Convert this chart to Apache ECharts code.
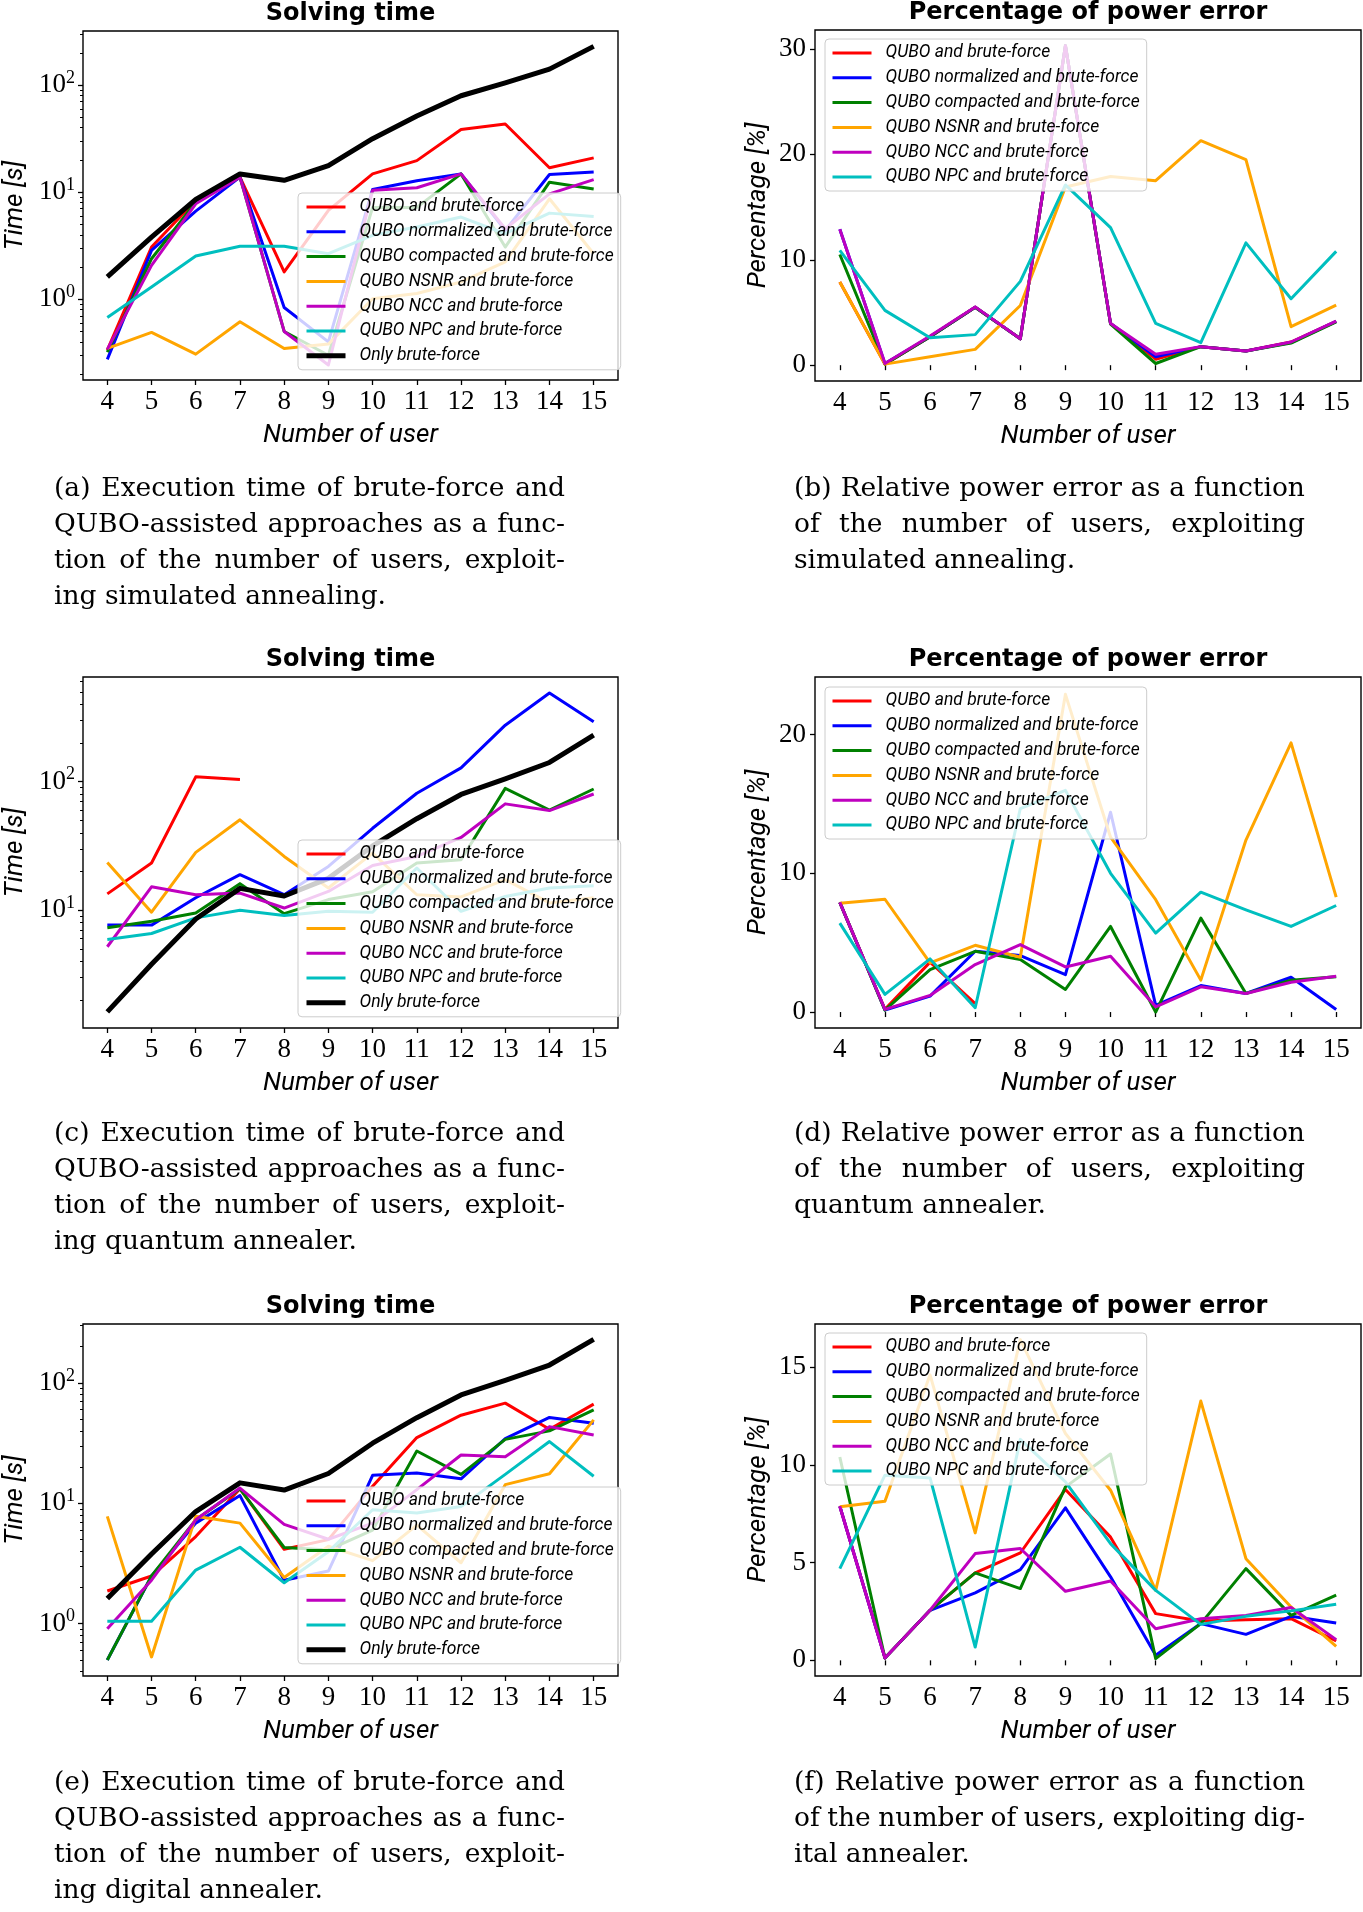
<!DOCTYPE html>
<html>
<head>
<meta charset="utf-8">
<script src="https://cdn.jsdelivr.net/npm/echarts@6/dist/echarts.min.js"></script>
<style>
html,body{margin:0;padding:0;background:#fff;}
#wrap{position:relative;width:1363px;height:1912px;overflow:hidden;}
#chart{position:absolute;left:0;top:0;width:1363px;height:1912px;}
.cap{position:absolute;width:511px;font-family:"DejaVu Serif",serif;font-size:26.5px;line-height:36px;color:#000;}
.cap div{white-space:nowrap;height:36px;}
.cap div.j{display:flex;justify-content:space-between;}
</style>
</head>
<body>
<div id="wrap">
<div id="chart"></div>
<div class="cap" style="left:54px;top:469px;">
<div class="j">(a) Execution time of brute-force and</div>
<div class="j">QUBO-assisted approaches as a func-</div>
<div class="j">tion of the number of users, exploit-</div>
<div>ing simulated annealing.</div>
</div>
<div class="cap" style="left:794px;top:469px;">
<div class="j">(b) Relative power error as a function</div>
<div class="j">of the number of users, exploiting</div>
<div>simulated annealing.</div>
</div>
<div class="cap" style="left:54px;top:1114px;">
<div class="j">(c) Execution time of brute-force and</div>
<div class="j">QUBO-assisted approaches as a func-</div>
<div class="j">tion of the number of users, exploit-</div>
<div>ing quantum annealer.</div>
</div>
<div class="cap" style="left:794px;top:1114px;">
<div class="j">(d) Relative power error as a function</div>
<div class="j">of the number of users, exploiting</div>
<div>quantum annealer.</div>
</div>
<div class="cap" style="left:54px;top:1763px;">
<div class="j">(e) Execution time of brute-force and</div>
<div class="j">QUBO-assisted approaches as a func-</div>
<div class="j">tion of the number of users, exploit-</div>
<div>ing digital annealer.</div>
</div>
<div class="cap" style="left:794px;top:1763px;">
<div class="j">(f) Relative power error as a function</div>
<div class="j">of the number of users, exploiting dig-</div>
<div>ital annealer.</div>
</div>
</div>
<script>
// justify caption lines: one span per word, spread across the line
document.querySelectorAll('.cap div.j').forEach(function (d) {
  const words = d.textContent.trim().split(/\s+/);
  d.textContent = '';
  words.forEach(function (w) { const s = document.createElement('span'); s.textContent = w; d.appendChild(s); });
});

// ---------------- DATA ----------------
const users = [4, 5, 6, 7, 8, 9, 10, 11, 12, 13, 14, 15];
const seriesNames = ['QUBO and brute-force', 'QUBO normalized and brute-force', 'QUBO compacted and brute-force',
  'QUBO NSNR and brute-force', 'QUBO NCC and brute-force', 'QUBO NPC and brute-force', 'Only brute-force'];

const bruteOnly = [1.62, 3.8, 8.55, 14.8, 12.9, 17.7, 31.6, 51.5, 79.5, 105, 141, 230];

// (a) solving time, simulated annealing [s]
const aQubo = [0.335, 3.07, 8.36, 13.8, 1.8, 6.75, 14.8, 19.7, 38.4, 43.3, 16.9, 20.9];
const aNorm = [0.274, 2.86, 6.65, 13.8, 0.836, 0.40, 10.6, 12.8, 14.8, 4.4, 14.6, 15.4];
const aComp = [0.32, 2.39, 8.07, 13.8, 0.50, 0.30, 7.2, 7.2, 14.8, 3.07, 12.4, 10.7];
const aNsnr = [0.347, 0.49, 0.307, 0.615, 0.347, 0.381, 1.01, 1.13, 1.45, 2.23, 8.67, 2.66];
const aNcc  = [0.34, 2.07, 7.79, 13.8, 0.50, 0.243, 10.4, 11.0, 14.8, 4.55, 9.65, 13.1];
const aNpc  = [0.675, 1.30, 2.53, 3.12, 3.12, 2.66, 3.95, 4.72, 5.85, 4.09, 6.37, 5.93];

// (b) power error, simulated annealing [%]
const bQubo = [7.9, 0.1, 2.7, 5.5, 2.5, 30.3, 3.96, 0.57, 1.76, 1.35, 2.2, 4.15];
const bNorm = [12.9, 0.15, 2.7, 5.5, 2.5, 30.3, 3.96, 0.8, 1.76, 1.35, 2.15, 4.15];
const bComp = [10.5, 0.1, 2.7, 5.5, 2.5, 30.3, 3.9, 0.16, 1.76, 1.35, 2.1, 4.1];
const bNsnr = [7.9, 0.1, 0.8, 1.5, 5.66, 16.9, 17.9, 17.5, 21.3, 19.5, 3.65, 5.7];
const bNcc  = [12.9, 0.16, 2.77, 5.53, 2.5, 30.3, 3.96, 1.04, 1.76, 1.35, 2.2, 4.18];
const bNpc  = [10.9, 5.2, 2.6, 2.9, 7.95, 17.1, 13.05, 3.96, 2.14, 11.6, 6.3, 10.8];

// (c) solving time, quantum annealer [s]
const cQubo = [13.4, 23.3, 109, 104, null, null, null, null, null, null, null, null];
const cNorm = [7.66, 7.66, 12.5, 18.9, 13.2, 21.9, 43.4, 81.3, 128, 275, 490, 292];
const cComp = [7.3, 8.2, 9.5, 16.1, 9.4, 12.1, 13.9, 23.3, 24.7, 88.7, 60.2, 87.7];
const cNsnr = [23.5, 9.65, 28.2, 50.5, 26.2, 14.9, 27.8, 13.2, 12.7, 17.3, 11.4, 12.5];
const cNcc  = [5.2, 15.2, 13.2, 13.6, 10.4, 14.0, 22.3, 26.2, 36.8, 67.2, 59.6, 80.2];
const cNpc  = [5.93, 6.59, 8.72, 10.0, 9.1, 9.8, 9.65, 21.3, 9.8, 12.8, 14.9, 15.5];

// (d) power error, quantum annealer [%]
const dQubo = [7.9, 0.19, 3.6, 0.6, null, null, null, null, null, null, null, null];
const dNorm = [7.9, 0.15, 1.15, 4.38, 4.07, 2.7, 14.4, 0.48, 1.91, 1.34, 2.51, 0.19];
const dComp = [7.9, 0.14, 3.06, 4.38, 3.78, 1.63, 6.17, 0.0, 6.77, 1.34, 2.3, 2.54];
const dNsnr = [7.85, 8.13, 3.54, 4.81, 3.95, 22.9, 12.6, 8.1, 2.3, 12.4, 19.4, 8.28];
const dNcc  = [7.9, 0.19, 1.2, 3.42, 4.86, 3.25, 4.02, 0.38, 1.82, 1.34, 2.15, 2.58];
const dNpc  = [6.41, 1.27, 3.83, 0.31, 14.67, 15.98, 10.0, 5.69, 8.64, 7.37, 6.17, 7.68];

// (e) solving time, digital annealer [s]
const eQubo = [1.87, 2.49, 5.3, 13.2, 4.15, 5.0, 13.9, 35.2, 54, 68, 41.3, 66.8];
const eNorm = [0.5, 2.49, 6.85, 11.6, 2.3, 2.74, 17.1, 17.9, 16.0, 34.5, 51.7, 46.3];
const eComp = [0.5, 2.5, 7.3, 13.2, 4.3, 4.1, 6.0, 27.2, 17.4, 34, 40, 59.8];
const eNsnr = [7.8, 0.53, 7.8, 6.85, 2.42, 4.4, 3.34, 6.6, 3.21, 14.3, 17.6, 49.4];
const eNcc  = [0.91, 2.3, 7.3, 13.4, 6.7, 5.03, 6.85, 13, 25.2, 24.4, 43.4, 37];
const eNpc  = [1.05, 1.05, 2.79, 4.32, 2.19, 3.97, 8.85, 8.3, 9.4, 17.4, 32.6, 16.8];

// (f) power error, digital annealer [%]
const fQubo = [7.88, 0.12, 2.56, 4.47, 5.49, 8.74, 6.3, 2.39, 2.01, 2.08, 2.13, 0.99];
const fNorm = [7.88, 0.12, 2.56, 3.45, 4.64, 7.8, 4.27, 0.26, 1.88, 1.33, 2.25, 1.91];
const fComp = [10.4, 0.12, 2.56, 4.47, 3.67, 8.87, 10.55, 0.09, 1.88, 4.69, 2.3, 3.33];
const fNsnr = [7.85, 8.14, 14.6, 6.52, 16.4, 11.6, 8.7, 3.58, 13.26, 5.2, 2.73, 0.72];
const fNcc  = [7.88, 0.12, 2.56, 5.46, 5.72, 3.53, 4.06, 1.62, 2.13, 2.3, 2.7, 1.06];
const fNpc  = [4.69, 9.47, 9.33, 0.68, 11.3, 9.13, 5.97, 3.58, 1.84, 2.25, 2.53, 2.87];

// tick values
const logMajorTicks = [1, 10, 100];
const logMinorA = [0.2, 0.3, 0.4, 0.5, 0.6, 0.7, 0.8, 0.9, 2, 3, 4, 5, 6, 7, 8, 9, 20, 30, 40, 50, 60, 70, 80, 90, 200, 300];
const logMinorC = [2, 3, 4, 5, 6, 7, 8, 9, 20, 30, 40, 50, 60, 70, 80, 90, 200, 300, 400, 500, 600];
const logMinorE = [0.4, 0.5, 0.6, 0.7, 0.8, 0.9, 2, 3, 4, 5, 6, 7, 8, 9, 20, 30, 40, 50, 60, 70, 80, 90, 200, 300];
const pctTicksB = [0, 10, 20, 30];
const pctTicksD = [0, 10, 20];
const pctTicksF = [0, 5, 10, 15];

// ---------------- CHART ----------------
const colors = ['#ff0000', '#0000ff', '#008000', '#ffa500', '#bf00bf', '#00bfbf', '#000000'];
const panels = [
  { grid: {left: 83, top: 31, width: 535, height: 349}, log: true, min: 0.176, max: 320, minor: logMinorA,
    title: 'Solving time', yName: 'Time [s]', data: [aQubo, aNorm, aComp, aNsnr, aNcc, aNpc, bruteOnly],
    legend: {left: 298, top: 193} },
  { grid: {left: 815, top: 30, width: 546, height: 351}, log: false, min: -1.5, max: 31.8, ticks: pctTicksB,
    title: 'Percentage of power error', yName: 'Percentage [%]', data: [bQubo, bNorm, bComp, bNsnr, bNcc, bNpc],
    legend: {left: 825, top: 39} },
  { grid: {left: 83, top: 677, width: 535, height: 351}, log: true, min: 1.213, max: 652, minor: logMinorC,
    title: 'Solving time', yName: 'Time [s]', data: [cQubo, cNorm, cComp, cNsnr, cNcc, cNpc, bruteOnly],
    legend: {left: 298, top: 840} },
  { grid: {left: 815, top: 677, width: 546, height: 351}, log: false, min: -1.15, max: 24.15, ticks: pctTicksD,
    title: 'Percentage of power error', yName: 'Percentage [%]', data: [dQubo, dNorm, dComp, dNsnr, dNcc, dNpc],
    legend: {left: 825, top: 687} },
  { grid: {left: 83, top: 1324, width: 535, height: 352}, log: true, min: 0.368, max: 309, minor: logMinorE,
    title: 'Solving time', yName: 'Time [s]', data: [eQubo, eNorm, eComp, eNsnr, eNcc, eNpc, bruteOnly],
    legend: {left: 298, top: 1487} },
  { grid: {left: 815, top: 1324, width: 546, height: 352}, log: false, min: -0.8, max: 17.2, ticks: pctTicksF,
    title: 'Percentage of power error', yName: 'Percentage [%]', data: [fQubo, fNorm, fComp, fNsnr, fNcc, fNpc],
    legend: {left: 825, top: 1333} }
];

const tickFont = 'Liberation Serif';
const sansItalic = {fontFamily: 'Roboto', fontStyle: 'italic', color: '#000'};

const grids = [], xAxes = [], yAxes = [], series = [], legends = [], graphics = [];
const minorAxes = [];

panels.forEach((p, i) => {
  grids.push(Object.assign({show: true, borderColor: '#000', borderWidth: 1.4, backgroundColor: 'transparent',
    containLabel: false, outerBoundsMode: 'none'}, p.grid));
  xAxes.push({
    type: 'value', gridIndex: i, min: 3.45, max: 15.55,
    axisLine: {show: false}, splitLine: {show: false},
    axisTick: {show: true, length: 5, customValues: users, lineStyle: {color: '#000', width: 1.3}},
    axisLabel: {customValues: users, fontFamily: tickFont, fontSize: 27, color: '#000', margin: 8},
    name: 'Number of user', nameLocation: 'middle', nameGap: 42,
    nameTextStyle: Object.assign({fontSize: 26}, sansItalic)
  });
  const yName = {name: p.yName, nameLocation: 'middle', nameRotate: 90,
    nameGap: p.log ? 55 : 44, nameTextStyle: Object.assign({fontSize: 26}, sansItalic)};
  if (p.log) {
    yAxes.push(Object.assign({
      type: 'log', logBase: 10, gridIndex: i, position: 'left', min: p.min, max: p.max,
      axisLine: {show: false}, splitLine: {show: false},
      axisTick: {show: true, length: 5, customValues: logMajorTicks, lineStyle: {color: '#000', width: 1.3}},
      axisLabel: {customValues: logMajorTicks, margin: 8,
        formatter: function (v) { return '{b|10}{s|' + Math.round(Math.log10(v)) + '}'; },
        rich: {b: {fontFamily: tickFont, fontSize: 27, color: '#000'},
               s: {fontFamily: tickFont, fontSize: 18, color: '#000', padding: [0, 0, 14, 0]}}}
    }, yName));
    minorAxes.push({
      type: 'log', logBase: 10, gridIndex: i, position: 'left', min: p.min, max: p.max,
      axisLine: {show: false}, splitLine: {show: false},
      axisTick: {show: true, length: 3, customValues: p.minor, lineStyle: {color: '#000', width: 1}},
      axisLabel: {show: false}
    });
  } else {
    yAxes.push(Object.assign({
      type: 'value', gridIndex: i, position: 'left', min: p.min, max: p.max,
      axisLine: {show: false}, splitLine: {show: false},
      axisTick: {show: true, length: 5, customValues: p.ticks, lineStyle: {color: '#000', width: 1.3}},
      axisLabel: {customValues: p.ticks, fontFamily: tickFont, fontSize: 27, color: '#000', margin: 9}
    }, yName));
  }
  p.data.forEach((arr, k) => {
    series.push({
      type: 'line', name: seriesNames[k], xAxisIndex: i, yAxisIndex: i,
      data: users.map((u, j) => [u, arr[j]]),
      symbol: 'none', connectNulls: false, silent: true, animation: false,
      color: colors[k],
      lineStyle: {color: colors[k], width: k === 6 ? 5 : 3, join: 'round'},
      itemStyle: {color: colors[k]},
      z: 2 + k * 0.01
    });
  });
  legends.push({
    show: true, orient: 'vertical', left: p.legend.left, top: p.legend.top,
    data: seriesNames.slice(0, p.data.length),
    selectedMode: false,
    backgroundColor: 'rgba(255,255,255,0.8)', borderColor: '#cccccc', borderWidth: 1, borderRadius: 4,
    padding: [4, 7, 4, 6],
    itemWidth: 39, itemHeight: 14, itemGap: 4.8,
    itemStyle: {opacity: 0},
    lineStyle: {width: 'inherit'},
    textStyle: Object.assign({fontSize: 17.5, lineHeight: 20, padding: [0, 0, 0, 9]}, sansItalic)
  });
  const cx = p.grid.left + p.grid.width / 2;
  const cy = p.grid.top - 17;
  graphics.push({
    type: 'text', x: cx, y: cy, silent: true,
    style: {text: p.title, font: 'bold 24px "DejaVu Sans"', fill: '#000',
      textAlign: 'center', textVerticalAlign: 'middle', align: 'center', verticalAlign: 'middle'}
  });
});

// minor-tick axes appended after the main ones
minorAxes.forEach(a => yAxes.push(a));

const chart = echarts.init(document.getElementById('chart'), null, {renderer: 'canvas'});
chart.setOption({
  animation: false,
  backgroundColor: '#ffffff',
  grid: grids,
  xAxis: xAxes,
  yAxis: yAxes,
  legend: legends,
  series: series,
  graphic: graphics
});
</script>
</body>
</html>
